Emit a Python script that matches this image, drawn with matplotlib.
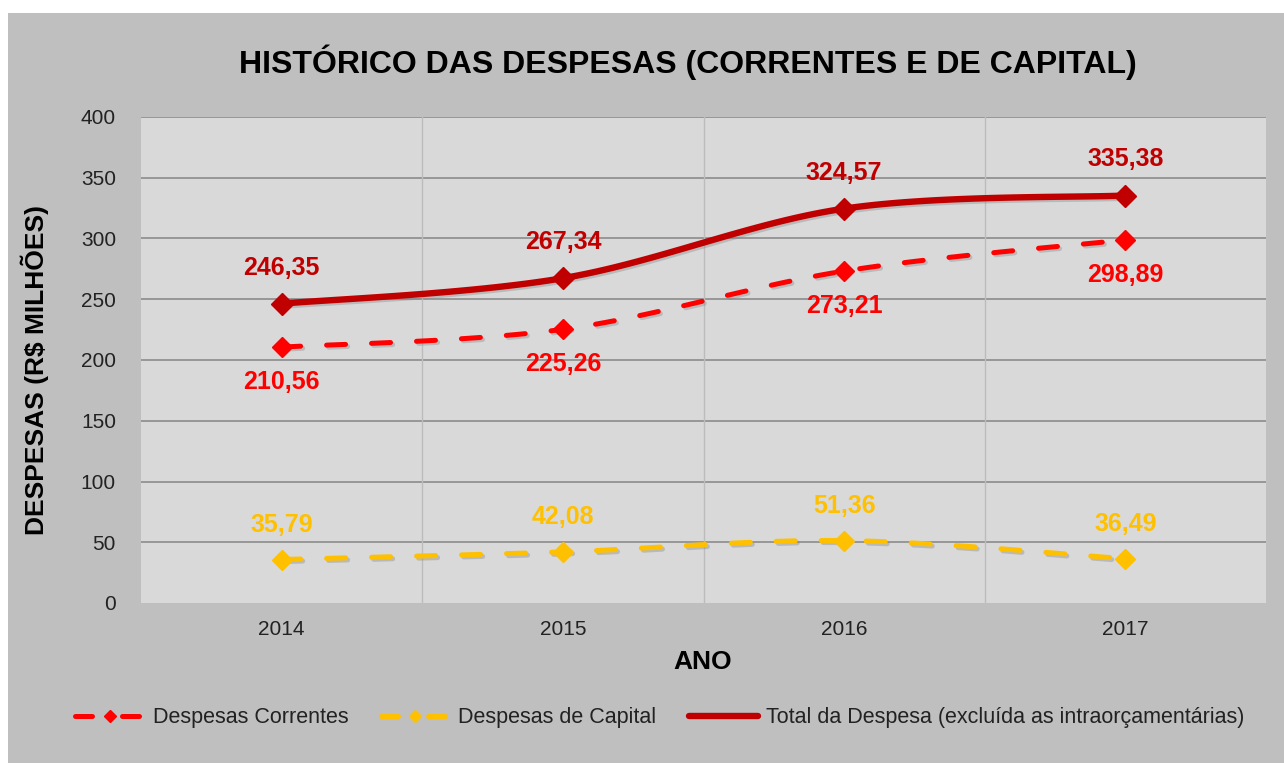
import numpy as np
import matplotlib.pyplot as plt
from matplotlib.patches import Rectangle
from matplotlib.lines import Line2D
import matplotlib.patheffects as pe

plt.rcParams['font.family'] = ['Liberation Sans', 'DejaVu Sans']

anos = ['2014', '2015', '2016', '2017']
correntes = [210.56, 225.26, 273.21, 298.89]
capital = [35.79, 42.08, 51.36, 36.49]
total = [246.35, 267.34, 324.57, 335.38]

C_CORR = '#ff0000'
C_CAP = '#ffc000'
C_TOT = '#c00000'


def smooth(y, n=40):
    """Catmull-Rom curve through the points (like Excel smoothed lines)."""
    x = np.arange(len(y), dtype=float)
    y = np.asarray(y, dtype=float)
    px = np.concatenate([[x[0]], x, [x[-1]]])
    py = np.concatenate([[y[0]], y, [y[-1]]])
    xs, ys = [], []
    for i in range(1, len(px) - 2):
        t = np.linspace(0, 1, n)
        for p, out in ((px, xs), (py, ys)):
            p0, p1, p2, p3 = p[i - 1], p[i], p[i + 1], p[i + 2]
            out.extend(0.5 * ((2 * p1) + (-p0 + p2) * t
                              + (2 * p0 - 5 * p1 + 4 * p2 - p3) * t ** 2
                              + (-p0 + 3 * p1 - 3 * p2 + p3) * t ** 3))
    return np.array(xs), np.array(ys)


fig = plt.figure(figsize=(12.84, 7.63), dpi=100, facecolor='white')
fig.patches.append(Rectangle((8 / 1284, 0), 1, (763 - 13) / 763, transform=fig.transFigure,
                             facecolor='#bfbfbf', edgecolor='none', zorder=-10))

ax = fig.add_axes([141 / 1284, 1 - 603 / 763, (1266 - 141) / 1284, (603 - 117) / 763])
ax.set_facecolor('#d9d9d9')
for s in ax.spines.values():
    s.set_visible(False)

x = np.arange(len(anos))
ax.set_xlim(-0.5, len(anos) - 0.5)
ax.set_ylim(0, 400)
ax.set_yticks(range(0, 401, 50))
ax.set_xticks(x)
ax.set_xticklabels(anos)
ax.tick_params(length=0, labelsize=15, colors='#222222', pad=12)
ax.tick_params(axis='y', pad=18)

for v in range(50, 401, 50):
    ax.axhline(v, color='#8c8c8c', lw=1.2, zorder=1)
for b in np.arange(0.5, len(anos) - 1, 1):
    ax.axvline(b, color='#bcbcbc', lw=1.0, zorder=1)

shadow = [pe.SimpleLineShadow(offset=(1.5, -1.5), shadow_color='#808080', alpha=0.35), pe.Normal()]

dash = (0, (3.8, 5.2))
sx, sy = smooth(correntes)
ax.plot(sx, sy, color=C_CORR, lw=3.6, ls=dash, dash_capstyle='round', zorder=3, path_effects=shadow)
ax.plot(x, correntes, 'D', color=C_CORR, ms=10, zorder=4)

sx, sy = smooth(capital)
ax.plot(sx, sy, color=C_CAP, lw=3.6, ls=dash, dash_capstyle='round', zorder=3, path_effects=shadow)
ax.plot(x, capital, 'D', color=C_CAP, ms=10, zorder=4)

sx, sy = smooth(total)
ax.plot(sx, sy, color=C_TOT, lw=4.6, solid_capstyle='round', zorder=5, path_effects=shadow)
ax.plot(x, total, 'D', color=C_TOT, ms=11, zorder=6)

fmt = lambda v: f'{v:.2f}'.replace('.', ',')
for i in x:
    ax.annotate(fmt(total[i]), (i, total[i]), xytext=(0, 26), textcoords='offset points',
                ha='center', va='center', color=C_TOT, fontsize=18, fontweight='bold')
    ax.annotate(fmt(correntes[i]), (i, correntes[i]), xytext=(0, -25), textcoords='offset points',
                ha='center', va='center', color=C_CORR, fontsize=18, fontweight='bold')
    ax.annotate(fmt(capital[i]), (i, capital[i]), xytext=(0, 25), textcoords='offset points',
                ha='center', va='center', color=C_CAP, fontsize=18, fontweight='bold')

fig.text(688 / 1284, 1 - 62 / 763, 'HISTÓRICO DAS DESPESAS (CORRENTES E DE CAPITAL)',
         ha='center', va='center', fontsize=23, fontweight='bold', color='black')
fig.text(35 / 1284, 1 - 370 / 763, 'DESPESAS (R$ MILHÕES)', rotation=90,
         ha='center', va='center', fontsize=19, fontweight='bold', color='black')
fig.text(703 / 1284, 1 - 662 / 763, 'ANO', ha='center', va='center',
         fontsize=19, fontweight='bold', color='black')

handles = [
    Line2D([], [], color=C_CORR, lw=3.6, ls=(0, (3.4, 6.0)), dash_capstyle='round',
           marker='D', ms=6),
    Line2D([], [], color=C_CAP, lw=3.6, ls=(0, (3.4, 6.0)), dash_capstyle='round',
           marker='D', ms=6),
    Line2D([], [], color=C_TOT, lw=4.6, solid_capstyle='round'),
]
labels = ['Despesas Correntes', 'Despesas de Capital',
          'Total da Despesa (excluída as intraorçamentárias)']
fig.legend(handles, labels, loc='center', bbox_to_anchor=(660 / 1284, 1 - 718 / 763),
           ncol=3, frameon=False, fontsize=15.5, handlelength=3.2, handletextpad=0.4,
           columnspacing=1.5, labelcolor='#222222')

fig.savefig('out.png', dpi=100, facecolor=fig.get_facecolor())
